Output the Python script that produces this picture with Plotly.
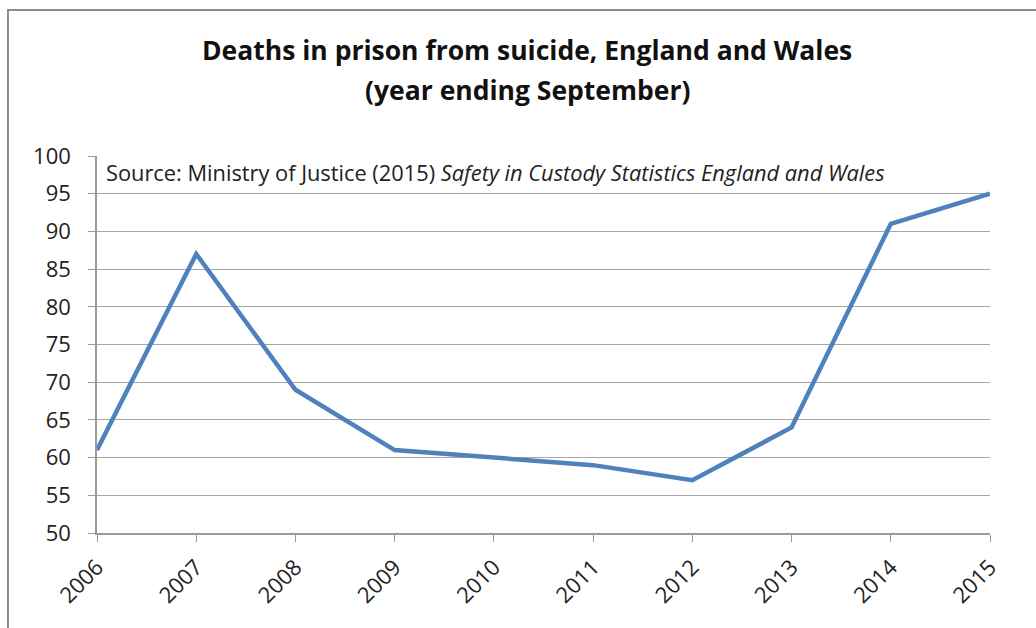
import plotly.graph_objects as go

years = [2006, 2007, 2008, 2009, 2010, 2011, 2012, 2013, 2014, 2015]
deaths = [61, 87, 69, 61, 60, 59, 57, 64, 91, 95]
y_ticks = [50, 55, 60, 65, 70, 75, 80, 85, 90, 95, 100]
title_lines = ["Deaths in prison from suicide, England and Wales", "(year ending September)"]

FONT = "Open Sans"
fig = go.Figure()
fig.add_trace(go.Scatter(x=years, y=deaths, mode="lines",
                         line=dict(color="#4F81BD", width=4.5), hoverinfo="x+y"))

fig.update_layout(
    width=1036, height=628,
    margin=dict(l=97, r=46, t=156, b=95),
    paper_bgcolor="white", plot_bgcolor="white",
    showlegend=False,
    font=dict(family=FONT, color="#222"),
    xaxis=dict(range=[2006, 2015], tickvals=years, ticktext=[str(y) for y in years],
               tickangle=-45, showgrid=False, showline=True, linecolor="#9a9a9a", linewidth=1.5,
               ticks="outside", ticklen=7, tickcolor="#9a9a9a", tickfont=dict(size=22, color="#222"),
               zeroline=False, ticklabelstandoff=4),
    yaxis=dict(range=[50, 100], tickvals=y_ticks, showgrid=True, gridcolor="#a6a6a6", gridwidth=1.2,
               showline=True, linecolor="#9a9a9a", linewidth=1.5, ticks="outside", ticklen=7,
               tickcolor="#9a9a9a", tickfont=dict(size=22, color="#222"), zeroline=False,
               ticklabelstandoff=13),
)

# title lines (pixel y: 50 and 90 from top; plot top at 156, height 377)
for txt, py in zip(title_lines, [50, 90]):
    fig.add_annotation(xref="paper", yref="paper", x=(527 - 97) / 893, y=(533 - py) / 377,
                       xanchor="center", yanchor="middle", text=f"<b>{txt}</b>", showarrow=False,
                       font=dict(family=FONT, size=26.5, color="#111"))

fig.add_annotation(xref="paper", yref="paper", x=0.008, y=0.955, xanchor="left", yanchor="middle",
                   text="Source: Ministry of Justice (2015) <i>Safety in Custody Statistics England and Wales</i>",
                   showarrow=False, font=dict(family=FONT, size=21.8, color="#222"))

# outer chart border (top and left visible)
fig.add_shape(type="rect", xref="paper", yref="paper", x0=-0.0997, x1=1.3, y0=-0.5, y1=1.387,
              line=dict(color="#8a8a8a", width=2), layer="below")

fig.write_html("out.html")
